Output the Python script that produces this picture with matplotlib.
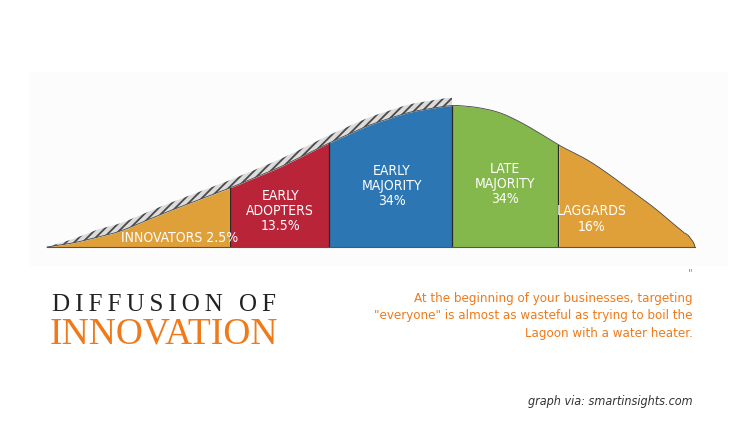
import matplotlib.pyplot as plt
import numpy as np

# adoption curve: time (0..100) vs relative height
curve_x = [0, 4.3, 11.1, 18.1, 28.2, 36.0, 43.5, 49.7, 55.9, 62.5,
           66.2, 69.8, 73.1, 76.5, 78.9, 83.5, 86.9, 90.4, 93.8, 97.2, 99.0, 99.8, 100]
curve_h = [0, 0.03, 0.106, 0.24, 0.415, 0.563, 0.732, 0.859, 0.951, 1.0,
           0.986, 0.951, 0.88, 0.789, 0.718, 0.613, 0.507, 0.387, 0.275, 0.141, 0.08, 0.03, 0]

# segment edges along the time axis
edges = [0, 28.2, 43.5, 62.5, 78.9, 100]
seg_names = ["INNOVATORS 2.5%", "EARLY\nADOPTERS\n13.5%", "EARLY\nMAJORITY\n34%",
             "LATE\nMAJORITY\n34%", "LAGGARDS\n16%"]
seg_colors = ["#dfa03a", "#b92439", "#2c77b3", "#84b84c", "#dfa03a"]
label_x = [20.5, 36.0, 53.2, 70.7, 84.1]
label_y = [0.063, 0.254, 0.43, 0.444, 0.197]

quote = ("At the beginning of your businesses, targeting\n"
         "\"everyone\" is almost as wasteful as trying to boil the\n"
         "Lagoon with a water heater.")

fig = plt.figure(figsize=(7.5, 4.22), dpi=100)
fig.patch.set_facecolor("white")

# faint backdrop behind the curve
bg = fig.add_axes([0.04, 0.37, 0.93, 0.46])
bg.set_facecolor("#fcfcfc")
bg.set_xticks([]); bg.set_yticks([])
for s in bg.spines.values():
    s.set_visible(False)

ax = fig.add_axes([47/750, 1 - 247/422, 648/750, 142/422])
ax.set_xlim(0, 100)
ax.set_ylim(0, 1)
ax.axis("off")

xs = np.linspace(0, 100, 801)
hs = np.interp(xs, curve_x, curve_h)
# soften the polyline corners
k = np.ones(25) / 25
hs_s = np.convolve(np.pad(hs, 12, mode="edge"), k, mode="valid")
hs = np.where((xs > 2) & (xs < 98.5), hs_s, hs)

cond = dict(family="DejaVu Sans", fontstretch="condensed")

for i in range(5):
    m = (xs >= edges[i]) & (xs <= edges[i+1])
    ax.fill_between(xs[m], 0, hs[m], color=seg_colors[i], lw=0, clip_on=False)
    ax.text(label_x[i], label_y[i], seg_names[i], color="white", ha="center",
            va="center", fontsize=10, linespacing=1.1, **cond)
for e in edges[1:-1]:
    ax.plot([e, e], [0, np.interp(e, xs, hs)], color="#2a2a2a", lw=0.9)

# sketchy pencil band on the rising side
plt.rcParams["hatch.linewidth"] = 1.3
m = xs <= edges[3]
band = 0.055 * np.clip(xs[m] / 8, 0, 1)
ax.fill_between(xs[m], hs[m], hs[m] + band, facecolor="#dcdcdc",
                edgecolor="#4a4a4a", hatch="////", lw=0, clip_on=False)
ax.plot(xs, hs, color="#444444", lw=0.6, clip_on=False)
ax.plot([0, 100], [0, 0], color="#555555", lw=0.8, clip_on=False)

fig.text(52/750, 1 - 305/422, "\u2009".join("DIFFUSION OF"), family="Liberation Serif",
         fontsize=18, color="#222222", va="center", ha="left")
fig.text(50/750, 1 - 334/422, "INNOVATION", family="Liberation Serif",
         fontsize=27, color="#f07a1a", va="center", ha="left")

fig.text(693/750, 1 - 273/422, "\"", color="#f07a1a", fontsize=8,
         ha="right", va="center", **cond)
fig.text(693/750, 1 - 316/422, quote, color="#f07a1a", fontsize=9.5,
         ha="right", va="center", linespacing=1.45, **cond)
fig.text(693/750, 1 - 401/422, "graph via: smartinsights.com", color="#333333",
         fontsize=9, style="italic", ha="right", va="center", **cond)

fig.savefig("out.png", dpi=100)
